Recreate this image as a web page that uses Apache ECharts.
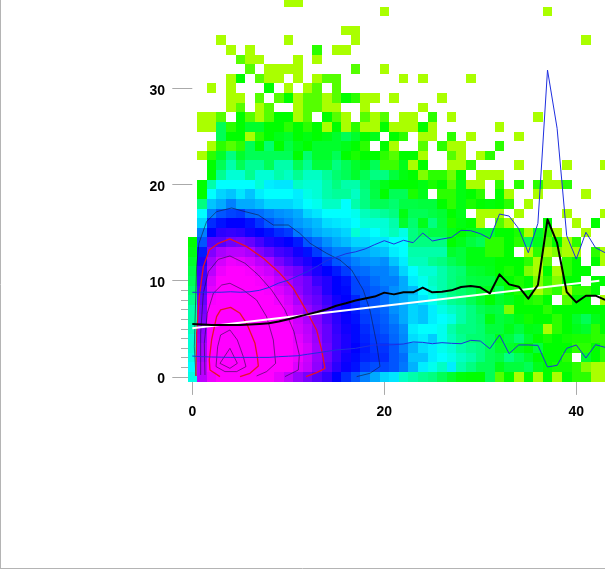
<!DOCTYPE html>
<html><head><meta charset="utf-8">
<style>html,body{margin:0;padding:0;background:#fff}#c{width:605px;height:569px}</style>
<script src="https://cdn.jsdelivr.net/npm/echarts@6/dist/echarts.min.js"></script>
</head><body><div id="c"></div>
<script>
// Density levels. First row is y=39, last row is y=0; columns x=0..43. 0 = empty.
const densityRows = [
[0,0,0,0,0,0,0,0,0,0,1,1,0,0,0,0,0,0,0,0,0,0,0,0,0,0,0,0,0,0,0,0,0,0,0,0,0,0,0,0,0,0,0,0],
[0,0,0,0,0,0,0,0,0,0,0,0,0,0,0,0,0,0,0,0,1,0,0,0,0,0,0,0,0,0,0,0,0,0,0,0,0,1,0,0,0,0,0,0],
[0,0,0,0,0,0,0,0,0,0,0,0,0,0,0,0,0,0,0,0,0,0,0,0,0,0,0,0,0,0,0,0,0,0,0,0,0,0,0,0,0,0,0,0],
[0,0,0,0,0,0,0,0,0,0,0,0,0,0,0,0,1,1,0,0,0,0,0,0,0,0,0,0,0,0,0,0,0,0,0,0,0,0,0,0,0,0,0,0],
[0,0,0,1,0,0,0,0,0,0,1,0,0,0,0,0,0,1,0,0,0,0,0,0,0,0,0,0,0,0,0,0,0,0,0,0,0,0,0,0,0,1,0,0],
[0,0,0,0,1,0,1,0,0,0,0,0,0,2.5,0,1,1,0,0,0,0,0,0,0,0,0,0,0,0,0,0,0,0,0,0,0,0,0,0,0,0,0,0,0],
[0,0,0,0,0,2,1,1,0,0,0,1,0,1,0,0,0,0,0,0,0,0,0,0,0,0,0,0,0,0,0,0,0,0,0,0,0,0,0,0,0,0,0,0],
[0,0,0,0,0,0,2,0,1,1,1,1,0,0,0,0,0,2,0,0,1,0,0,0,0,0,0,0,0,0,0,0,0,0,0,0,0,0,0,0,0,0,0,0],
[0,0,0,0,1,3,0,2,1,1,0,1,0,1,2,2,0,0,0,0,0,0,1,0,1,0,0,0,0,1,0,0,0,0,0,0,0,0,0,0,0,0,0,0],
[0,0,1,0,1,0,0,0,3,0,1,0,1,2,0,2,0,0,0,0,0,0,0,0,0,0,0,0,0,0,0,0,0,0,0,0,0,0,0,0,0,0,0,0],
[0,0,0,0,1,1,0,2,0,2,3,1,2,2,1,2,3,2.5,1,1,0,1,0,0,0,0,1,0,0,0,0,0,0,0,0,0,0,0,0,0,0,0,0,0],
[0,0,0,0,1,2,0,1,2,0,0,1,2,2,1,1,0,0,1,0,0,0,0,0,1,0,0,0,0,0,0,0,0,0,0,0,0,0,0,0,0,0,0,0],
[0,1,1,2,0,3,2,1,2,3,3,1,2,0,3,2,1,0,2,1,2,0,1,1,0,2.5,0,1,0,0,0,0,0,0,0,0,1,0,0,0,0,0,0,0],
[0,1,1,4,2.5,3,3.5,3.5,3,3,2.5,3,2.5,3,1,3,1,2.5,1,1,3,1,1,1,3,1,0,0,0,0,0,0,1,0,0,0,0,0,0,0,0,0,0,0],
[0,0,0,4,3,3,1,2.5,3,3.3,3.5,3,3.2,3,3.2,3.5,4,3.5,3,3.3,0,3,2.5,0,1,1,0,2.5,0,1,0,0,0,0,1,0,0,0,0,0,0,0,0,0],
[0,0,1,2.5,2,2.5,4,3,4.3,3,3.8,3.3,3,3.5,3.5,3.5,3.3,3,2.5,0,3,1,0,0,2,0,2.5,1,1,0,0,0,2.5,0,0,0,0,0,0,0,0,0,0,0],
[0,1,2.5,3.5,4.5,3.5,4,4,4,4,4,3,4.3,3.5,3.5,4,3,2.7,3,3,2.5,2,3,3,1,0,0,2,1,0,1,2.5,0,0,0,0,0,0,0,0,0,0,0,0],
[0,0,3,4,5,4,4.7,4.7,4,5,5,4,4.7,3.7,3.7,4.5,4,3.5,3.3,4,2.3,2.3,3.3,1,3,0,0,1,1,2.5,0,0,0,0,1,0,0,0,0,1,0,0,0,1],
[0,0,3,4.7,5.5,5.5,4.7,5.5,5.5,5,5.3,4.7,5.3,5.3,4.8,4.3,4,3.5,4,4.5,4.5,3.7,3.2,3,1.5,2.5,2.5,1.7,3,0,1,1,1,0,0,0,0,1,0,0,0,0,0,0],
[0,3,5,6,6,6,6,5.5,6.2,6.3,6.3,5.3,5.5,5.5,5,4.5,5,5,4.3,3.7,3.3,3,3,3,3.2,2.7,3,2,3.2,1,1,0,2.5,0,2.5,0,2.5,1,1,2.5,0,0,0,0],
[0,3,6,6.5,6.7,6.3,6.7,6.2,6,6,6,6.2,5.7,5.5,5,4.8,4.8,5.3,4.5,3.8,3,4,4,2.7,3.3,0,2.5,2.5,3.2,3,2.5,0,3,1,0,0,1,0,0,0,0,1,0,0],
[0,4.5,6.7,7,7.5,7,7,6.8,6.5,6.5,6.5,6.3,6,5.8,5.3,5.3,6,5,4.5,4,4,4.3,3.8,3.8,3.7,3.7,3,2.5,3.2,2.7,3,3.1,3,2.5,0,1,0,0,0,0,0,0,0,0],
[0,6,7.5,8,8.2,8.3,7.8,7.7,7.5,7.3,7.2,7,6.5,6.3,6,6,6,5.8,5.2,5,4.8,4.5,3.2,4,4,3.8,3.6,3,3.3,0,1,1,1,0,1,0,0,0,0,1,0,0,0,1],
[0,6.5,8.5,8.8,9,9,8.8,8.4,8,7.7,7.5,7.2,7,6.8,6.4,6.3,6.2,6,5.5,5.5,5.5,5,3.5,4.3,3.3,4.5,3.7,2.8,3.2,3,1,0,2,1,0,0,0,3,0,0,1,0,3,0],
[0,7.5,9,9.5,9.6,9.5,9.2,9,8.8,8.5,8.3,7.6,7.3,7,6.8,6.7,6.5,5.5,6.2,6,5.6,5.2,5.7,4.5,4,3.8,3.8,3.3,3,3.3,3.5,3.5,3,3,2.7,1,3.5,2.5,1,0,0,1,0,0],
[3,8,10,10,10.3,10.4,10.2,9.8,9.4,9.2,9,8.7,8,7.7,7.3,7,6.8,6.5,6.5,6.3,6.3,6,6,4.5,4.5,4.5,4.5,3,3.3,3.7,4,2.5,2.5,3,2.5,4,3.3,2,3,1,2.5,0,0,0],
[3.2,8.7,10.5,11,11.2,11.2,11,10.5,10.2,9.8,9.6,9.2,8.8,8.3,7.8,7.5,7.5,7,7,6.8,6.7,6.2,6,5,5,5,5,3.5,3.7,3.2,3.2,2.5,2.5,3,0,1,2.5,1,1.5,1,1,0,2.5,1],
[3.5,9.3,10.9,11.5,11.8,11.7,11.5,11.2,11,10.4,10,9.6,9.3,9,8.5,8,7.8,7.5,7.3,7.2,7.3,6.7,6.2,5.2,5.2,4.7,4.5,4,3.7,3.2,3.2,3.2,3,3,3,2.5,1,2,0,2.5,3,0,3,1],
[3.8,9.7,11.2,11.8,12,12,11.9,11.6,11.4,11,10.6,10.3,9.7,9.3,9,8.7,8.3,7.8,7.7,7.5,7.5,7.2,6.5,6,5.5,5.5,5,4.5,4.3,3.6,3.5,3.3,3,2.7,3,1.5,1,3,1,2.5,3,3,0,0],
[4,9.8,11.5,12,12,12,12,11.9,11.7,11.3,11,10.6,10.3,9.7,9.4,9,8.8,8.2,8,7.7,7.5,7.5,7,6.2,5.8,5.3,5,4.5,4.2,3.8,3.7,3.7,3.2,3,2.7,3,1.5,2.5,1.5,3,3,0,3,3],
[4.3,10,11.7,12,12,12,12,12,11.9,11.6,11.3,10.7,10.3,10,9.4,9,8.9,8.2,8.1,7.9,7.7,7.3,7,6.8,6,5.5,5,4.5,4.3,4,3.5,3.3,4,3,2.7,3,1,2,2.5,1,2.5,2.5,3,0],
[4.6,10.2,11.9,12,12,12,12,12,12,11.8,11.5,11,10.5,10.2,9.7,9.2,9,8.6,8.1,8,7.7,7.2,7,6.6,6.3,5.8,5.3,4.7,4.5,4,3.5,3,3.5,3.3,3,2.7,2.5,3,0,2,3,3,0,1],
[5,10.4,12,12,12,12,12,12,12,12,11.7,11.3,10.8,10.4,9.9,9.3,9,8.7,8.2,8,7.8,7.3,7,6.5,6.7,6.2,5.7,5.3,5,4.5,4,3.7,3.8,1.5,3,3,3,2.5,3,3,3,3,3,3],
[5,10.5,12,12,12,12,12,12,12,12,11.9,11.4,11,10.6,10,9.5,9.1,8.8,8.3,8.1,7.9,7.5,7,6.5,6.7,6.2,6,5.7,5,4.5,4.2,3.2,3.7,3.5,3.2,2.8,3,3,2.5,3,3.5,4,3.3,3],
[5.2,10.7,12,12,12,12,12,12,12,12,12,11.5,11.2,10.7,10.2,9.6,9.2,8.9,8.5,8.2,8,7.7,7.3,6.2,6,6,5.8,5,4.5,4.5,4.3,3.7,3.7,3.3,3.7,3.2,3.3,1,2.5,3,3.3,3.5,2.5,3],
[5.5,10.8,12,12,12,12,12,12,12,12,12,11.7,11.3,10.8,10.2,9.7,9.3,8.9,8.6,8.3,8.2,7.8,7.4,6.4,6.2,6.6,5.8,5.2,4.7,4.3,4.3,4,3.3,3.7,4.3,3.5,3,2.7,3,2.8,2.7,2.7,2.5,2.5],
[5.5,11,12,12,12,12,12,12,12,12,12,11.8,11.5,10.9,10.3,9.7,9.3,9,8.7,8.4,8.4,8,7.5,6.9,6.4,6.2,5.8,5.5,5,4.7,4.5,4,3.5,3.5,3.3,3,3.7,3,3,3,2.5,2.5,3,2.5],
[5.7,11,12,12,12,12,12,12,12,12,12,11.8,11.4,10.8,10.3,9.7,9.2,8.9,8.6,8.5,8.5,8,7.7,6.7,6.7,6.2,6,5.7,5.3,5,4.5,4,3.8,4.5,4,3.5,3,3,3,2.5,0,3.5,3,2.5],
[6,11.2,12,12,12,12,12,12,12,12,12,11.6,11.3,10.7,10.1,9.5,9.1,8.8,8.3,8.1,8.2,8,7.6,6.9,6.2,5.8,5.3,6.2,5,4.5,4,4,3.3,3.7,3.7,4,3.3,3,2.8,2.8,2.5,1.5,1,1],
[5.7,11.2,11.8,12,12,12,12,12,12,11.7,11.3,10.8,10.4,10,9.6,9,8.5,8,7.5,7,6.5,6.3,5.3,5,4.7,4.5,4,3.5,3.1,3,3,4,2,3,1,3,1,3,1,3,2.5,2.5,1,1]
];
const levelColors = ['#AAFF00','#55FF00','#00FF00','#00FF55','#00FFAA','#00FFFF','#00AAFF','#0055FF','#0000FF','#5500FF','#AA00FF','#FF00FF'];
const meanLine = [5.5,5.45,5.4,5.4,5.39,5.4,5.45,5.5,5.57,5.75,6,6.25,6.5,6.75,7.03,7.4,7.65,7.95,8.15,8.35,8.76,8.58,8.79,8.79,9.28,8.79,8.86,9,9.35,9.45,9.31,8.69,10.66,9.62,9.38,8.13,9.55,16.38,13.92,8.83,7.75,8.44,8.44,8];
const upperLine = [8.79,8.8,8.8,8.8,8.85,8.8,8.85,9,9.3,9.75,10.05,10.5,10.95,11.5,12.1,12.45,12.8,13,13.3,13.75,14.16,13.81,14.2,13.95,14.96,14.13,14.33,14.5,15.23,15.2,14.89,14.37,16.93,16.72,15.41,12.91,15.96,31.9,25.84,14.68,12.25,15.03,13.43,12.91];
const lowerLine = [2.17,2.1,2.07,2.05,2.03,2.03,2.03,2.03,2.03,2.1,2.15,2.2,2.35,2.5,2.65,2.8,2.88,2.97,3.15,3.32,3.32,3.35,3.42,3.63,3.59,3.45,3.56,3.49,3.45,3.8,3.73,2.93,4.36,2.42,3.32,3.32,3.28,1.03,1.2,2.97,3.32,1.96,3.35,3.07];
const fitLine = [[0,5.05],[42.4,10]];
const contourDark = [
 [[.38,.1],[.21,3.14],[.31,6.61],[.45,11.46],[.69,13.89],[1.49,16.14],[2.53,17.18],[4.1,17.56],[5.49,17.18],[6.88,16.83],[8.44,15.79],[10,15.79],[11.2,14.92],[12.26,13.89],[13.99,12.85],[15.38,12.15],[16.6,11.11],[17.81,9.03],[18.5,6.96],[19.2,3.49],[19.55,1.07],[18.5,.37],[17.12,.03]],
 [[.87,.2],[.87,4.53],[1.15,8.69],[1.67,10.94],[2.71,12.22],[3.92,12.57],[5.49,11.81],[6.88,10.59],[8.26,9.03],[9.65,6.96],[10.59,4.7],[11.15,2.28],[11.04,.72],[9.65,.03]],
 [[1.32,.2],[1.25,3.49],[1.56,6.61],[2.19,8.69],[3.06,9.55],[3.92,9.73],[5.31,9.03],[6.7,7.99],[7.74,6.26],[8.44,3.84],[8.68,1.41],[7.74,.55],[6.7,.1]],
 [[2.47,1.07],[2.64,3.14],[2.95,4.36],[3.92,4.88],[4.69,3.84],[5.31,2.11],[5.59,1.07],[4.62,.55],[3.4,.55],[2.47,1.07]],
 [[2.88,1.41],[3.92,2.97],[4.69,1.41],[3.92,.89],[2.88,1.41]]
];
const contourRed = [
 [[.38,.1],[.45,4.53],[.73,8.34],[1.15,11.46],[1.77,13.19],[2.71,13.89],[3.92,14.34],[5.66,13.54],[7.4,12.33],[8.96,10.94],[10.52,9.21],[11.74,7.13],[12.95,4.88],[13.47,2.8],[13.82,.89],[12.95,.44],[11.84,.03]],
 [[2.88,.03],[1.84,.72],[1.77,1.76],[2.01,3.84],[2.53,6.26],[2.95,6.96],[3.99,7.23],[4.97,6.61],[5.66,5.57],[6.53,3.49],[6.77,2.11],[6.88,1.13],[6.01,.37],[4.97,.03]]
];
const xTicks = [0,20,40];
const yTicks = [0,10,20,30];
const yMinorTicks = [1,2,3,4,5,6,7,8,9];

const cells = [];
densityRows.forEach((row,i)=>{const y=densityRows.length-1-i;row.forEach((v,x)=>{if(v>0)cells.push([x,y,v]);});});
const idx = a=>a.map((v,i)=>[i,v]);
const lineSeries=(data,color,width,z)=>({type:'line',data,symbol:'none',silent:true,clip:false,z,animation:false,lineStyle:{color,width,join:'round'}});
const gray='#aaaaaa';
const chart = echarts.init(document.getElementById('c'),null,{renderer:'canvas'});
chart.setOption({
 animation:false,
 backgroundColor:'#ffffff',
 grid:{left:192.3,top:0,right:0,height:376.9},
 xAxis:{type:'value',min:0,max:412.7/9.6,offset:5,axisLine:{show:false},splitLine:{show:false},
   axisTick:{show:true,length:18,lineStyle:{color:gray},customValues:xTicks},
   axisLabel:{margin:23,color:'#000',fontWeight:'bold',fontSize:14,fontFamily:'Liberation Sans',customValues:xTicks}},
 yAxis:[
  {type:'value',min:0,max:376.9/9.62,offset:4.3,axisLine:{show:false},splitLine:{show:false},
   axisTick:{show:true,length:20,lineStyle:{color:gray},customValues:yTicks},
   axisLabel:{margin:23,verticalAlign:'top',lineHeight:5,color:'#000',fontWeight:'bold',fontSize:14,fontFamily:'Liberation Sans',customValues:yTicks}},
  {type:'value',position:'left',min:0,max:376.9/9.62,offset:4.3,axisLine:{show:false},splitLine:{show:false},
   axisTick:{show:true,length:7,lineStyle:{color:gray},customValues:yMinorTicks},
   axisLabel:{show:false}}
 ],
 visualMap:{show:false,type:'continuous',seriesIndex:0,dimension:2,min:1,max:12,inRange:{color:levelColors}},
 graphic:[
  {type:'line',silent:true,z:100,shape:{x1:.5,y1:0,x2:.5,y2:569},style:{stroke:'#b4b4b4',lineWidth:1}},
  {type:'line',silent:true,z:100,shape:{x1:0,y1:568.5,x2:605,y2:568.5},style:{stroke:'#b4b4b4',lineWidth:1}}
 ],
 series:[
  {type:'custom',data:cells,silent:true,clip:false,z:1,animation:false,encode:{x:0,y:1},
   renderItem:(p,api)=>{
    const x=api.value(0),y=api.value(1);
    const a=api.coord([x-.5,y+.5]),b=api.coord([x+.5,y-.5]);
    const l=Math.round(a[0]),t=Math.round(a[1]),r=Math.round(b[0]),d=Math.round(b[1]);
    return {type:'rect',shape:{x:l,y:t,width:r-l,height:d-t},style:{fill:api.visual('color')}};
   }},
  ...contourDark.map(c=>lineSeries(c,'rgba(20,20,50,0.7)',.8,3)),
  ...contourRed.map(c=>lineSeries(c,'#e8102a',1.3,4)),
  lineSeries(idx(upperLine),'#1f2fe0',1,5),
  lineSeries(idx(lowerLine),'#1f2fe0',1,5),
  lineSeries(fitLine,'#ffffff',2,6),
  lineSeries(idx(meanLine),'#000000',2,7)
 ]
});
</script></body></html>
